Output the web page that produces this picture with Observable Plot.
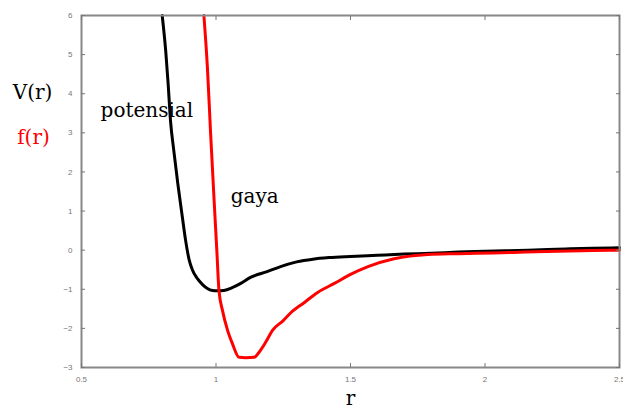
<!DOCTYPE html>
<html><head><meta charset="utf-8">
<script src="https://cdn.jsdelivr.net/npm/d3@7"></script>
<script src="https://cdn.jsdelivr.net/npm/@observablehq/plot@0.6"></script>
<style>body{margin:0;background:#fff;overflow:hidden}</style>
</head><body><div id="chart"></div>
<script>
// potential V(r) (black)
const rPot = [0.800, 0.813, 0.822, 0.831, 0.843, 0.858, 0.875, 0.887, 0.900, 0.912, 0.931, 0.950, 0.968, 0.987, 1.005, 1.029, 1.06, 1.092, 1.13, 1.19, 1.24, 1.30, 1.36, 1.42, 1.50, 1.60, 1.70, 1.80, 1.90, 2.00, 2.16, 2.30, 2.40, 2.50];
const vPot = [6.0, 5.1, 4.26, 3.3, 2.55, 1.70, 0.84, 0.25, -0.24, -0.50, -0.73, -0.88, -0.98, -1.03, -1.04, -1.03, -0.96, -0.85, -0.69, -0.55, -0.42, -0.30, -0.23, -0.19, -0.16, -0.13, -0.10, -0.08, -0.05, -0.03, 0.00, 0.03, 0.05, 0.06];
// force f(r) (red)
const rForce = [0.955, 0.968, 0.980, 0.993, 1.003, 1.011, 1.024, 1.043, 1.061, 1.086, 1.11, 1.142, 1.160, 1.185, 1.21, 1.25, 1.278, 1.33, 1.378, 1.44, 1.50, 1.565, 1.662, 1.788, 1.90, 2.03, 2.15, 2.27, 2.40, 2.50];
const fForce = [6.0, 4.68, 2.98, 1.27, 0.0, -1.03, -1.54, -2.05, -2.39, -2.74, -2.75, -2.74, -2.61, -2.35, -2.05, -1.80, -1.60, -1.33, -1.08, -0.85, -0.62, -0.42, -0.22, -0.11, -0.09, -0.07, -0.05, -0.03, -0.01, 0.0];
const xTicks = [0.5, 1, 1.5, 2, 2.5];
const xTickLabels = ["0.5", "1", "1.5", "2", "2.5"];
const yTicks = [-3, -2, -1, 0, 1, 2, 3, 4, 5, 6];

const pot = rPot.map((r, i) => ({r, v: vPot[i]}));
const force = rForce.map((r, i) => ({r, v: fForce[i]}));
const serif = "DejaVu Serif";

const chart = Plot.plot({
  width: 623, height: 414,
  marginLeft: 81, marginRight: 4, marginTop: 15, marginBottom: 47,
  style: {fontFamily: "Liberation Sans", background: "#fff"},
  x: {domain: [0.5, 2.5]},
  y: {domain: [-3, 6]},
  marks: [
    Plot.line(pot, {x: "r", y: "v", stroke: "black", strokeWidth: 3, curve: "monotone-x"}),
    Plot.line(force, {x: "r", y: "v", stroke: "#ff0000", strokeWidth: 3, curve: "monotone-x"}),
    Plot.frame({stroke: "#888", strokeWidth: 2}),
    Plot.axisY(yTicks, {anchor: "left", tickSize: -4, tickPadding: 13, fontSize: 8, color: "#777", label: null}),
    Plot.axisY(yTicks, {anchor: "right", tickSize: -4, tickFormat: () => "", color: "#777", label: null}),
    Plot.axisX(xTicks, {anchor: "bottom", tickSize: -4, tickPadding: 13, fontSize: 8, color: "#777", label: null, tickFormat: (d, i) => xTickLabels[i]}),
    Plot.axisX(xTicks, {anchor: "top", tickSize: -4, tickFormat: () => "", color: "#777", label: null}),
    Plot.text(["potensial"], {x: 0.571, y: 3.56, text: d => d, textAnchor: "start", fontFamily: serif, fontSize: 20, fill: "black"}),
    Plot.text(["gaya"], {x: 1.055, y: 1.38, text: d => d, textAnchor: "start", fontFamily: serif, fontSize: 20, fill: "black"}),
    Plot.text(["V(r)"], {frameAnchor: "top-left", dx: -49, dy: 69, text: d => d, textAnchor: "middle", fontFamily: serif, fontSize: 20, fill: "black"}),
    Plot.text(["f(r)"], {frameAnchor: "top-left", dx: -48, dy: 114, text: d => d, textAnchor: "middle", fontFamily: serif, fontSize: 20, fill: "#ff0000"}),
    Plot.text(["r"], {x: 1.5, frameAnchor: "bottom", dy: 37, text: d => d, textAnchor: "middle", fontFamily: serif, fontSize: 20, fill: "black"})
  ]
});
document.getElementById("chart").append(chart);
</script>
</body></html>
